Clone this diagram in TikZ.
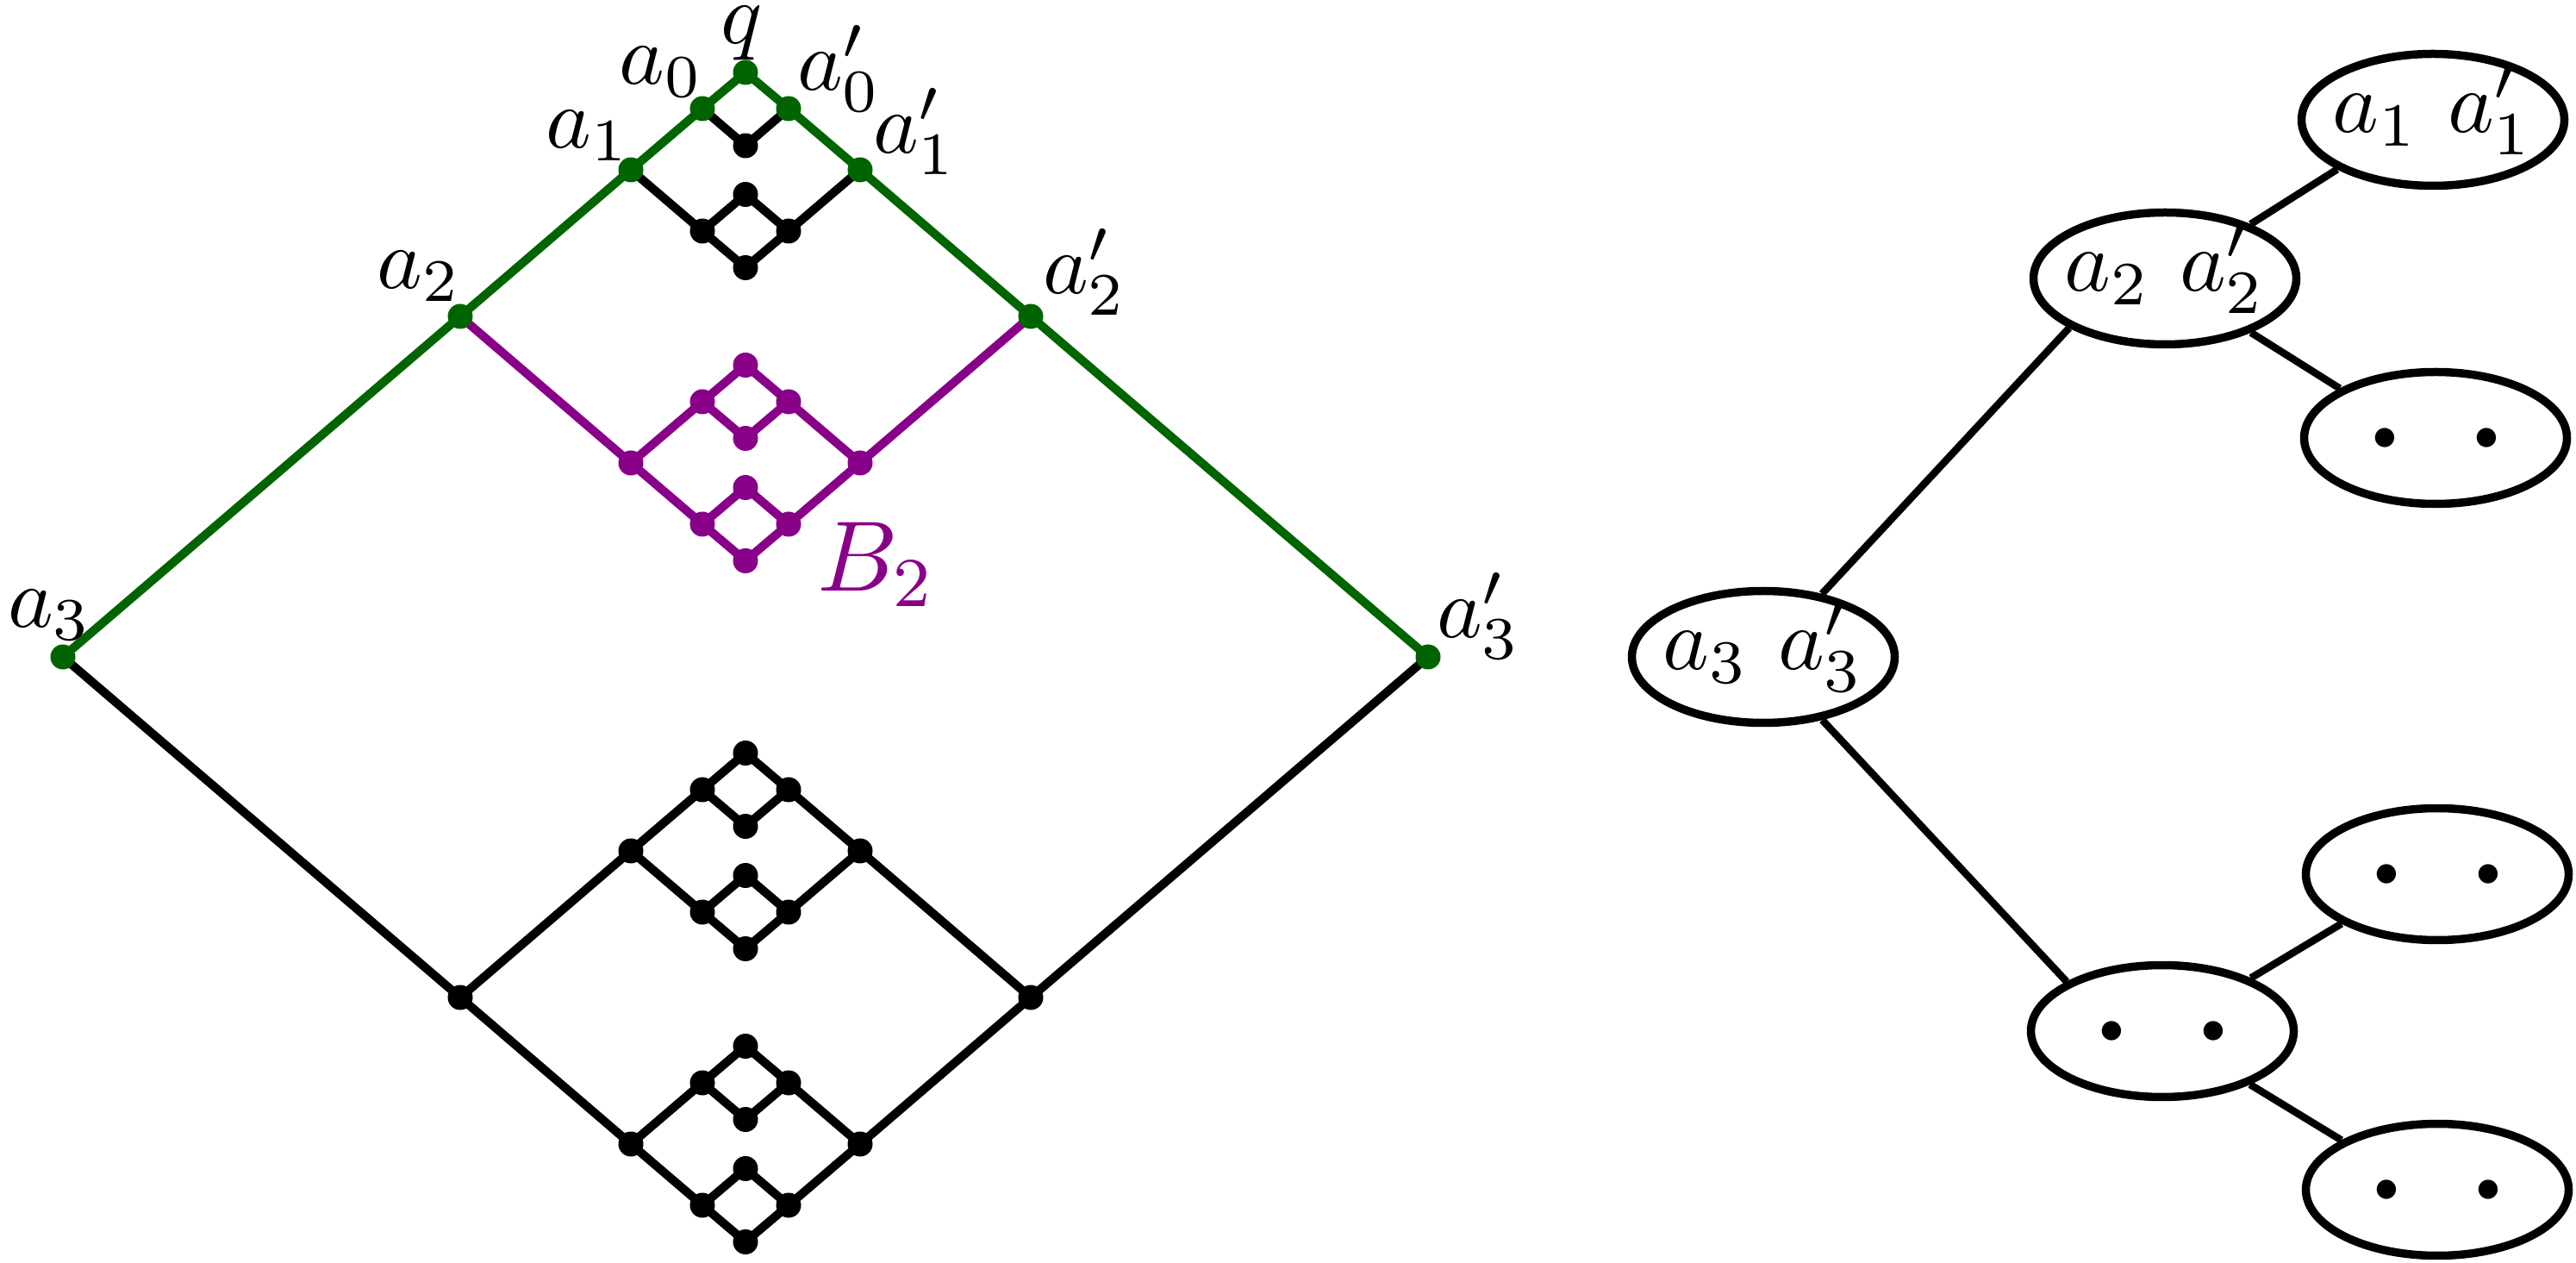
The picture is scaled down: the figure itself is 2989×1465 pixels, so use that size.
\RequirePackage{fix-cm}
\documentclass[tikz,border=0pt]{standalone}
\usetikzlibrary{shapes.geometric,backgrounds}
\definecolor{dgreen}{RGB}{0,100,0}
\definecolor{purp}{RGB}{136,0,136}
\tikzset{
  dot/.style={circle,fill=black,inner sep=0pt,minimum size=2.9pt,outer sep=0pt},
  edge/.style={line width=1.0pt},
  lab/.style={inner sep=0pt,font=\fontsize{10}{12}\selectfont},
  tnode/.style={ellipse,draw,line width=0.95pt,minimum width=30.5pt,minimum height=15.3pt,
    inner sep=0pt,text height=3pt,text depth=0pt,font=\fontsize{10.2}{12}\selectfont},
  tdots/.style={text height=2.3pt},
  tedge/.style={line width=0.85pt},
}
\newcommand\BOne[4]{%
  \node[dot,fill=#4] (#1L) at ({#2-50},{#3}) {};
  \node[dot,fill=#4] (#1R) at ({#2+50},{#3}) {};
  \node[dot,fill=#4] (#1T) at ({#2},{#3-42.5}) {};
  \node[dot,fill=#4] (#1B) at ({#2},{#3+42.5}) {};
  \begin{scope}[on background layer]
    \draw[edge,#4] (#1L.center) -- (#1T.center) -- (#1R.center) -- (#1B.center) -- cycle;
  \end{scope}}
\newcommand\BTwo[4]{%
  \node[dot,fill=#4] (#1L) at ({#2-133},{#3}) {};
  \node[dot,fill=#4] (#1R) at ({#2+133},{#3}) {};
  \BOne{#1u}{#2}{#3-71}{#4}%
  \BOne{#1d}{#2}{#3+71}{#4}%
  \begin{scope}[on background layer]
    \draw[edge,#4] (#1L.center) -- (#1uL.center) (#1uR.center) -- (#1R.center) -- (#1dR.center) (#1dL.center) -- (#1L.center);
  \end{scope}}
\newcommand\BThree[4]{%
  \node[dot,fill=#4] (#1L) at ({#2-331},{#3}) {};
  \node[dot,fill=#4] (#1R) at ({#2+331},{#3}) {};
  \BTwo{#1u}{#2}{#3-170}{#4}%
  \BTwo{#1d}{#2}{#3+170}{#4}%
  \begin{scope}[on background layer]
    \draw[edge,#4] (#1L.center) -- (#1uL.center) (#1uR.center) -- (#1R.center) -- (#1dR.center) (#1dL.center) -- (#1L.center);
  \end{scope}}
\newcommand\twodots{\makebox[0pt]{\fontsize{4.6}{5}\selectfont$\bullet$\hspace{8.4pt}$\bullet$}}
\begin{document}
\begin{tikzpicture}[x=0.1pt,y=-0.1pt]
\useasboundingbox (0,0) rectangle (2989,1465);
% green path
\node[dot,fill=dgreen] (a3) at (73,762) {};
\node[dot,fill=dgreen] (a3p) at (1657,762) {};
\node[dot,fill=dgreen] (a2) at (534,367) {};
\node[dot,fill=dgreen] (a2p) at (1196,367) {};
\node[dot,fill=dgreen] (a1) at (732,197) {};
\node[dot,fill=dgreen] (a1p) at (998,197) {};
\node[dot,fill=dgreen] (a0) at (815,126) {};
\node[dot,fill=dgreen] (a0p) at (915,126) {};
\node[dot,fill=dgreen] (q) at (865,84) {};
\node[dot] (qb) at (865,169) {};
\BOne{m}{865}{268}{black}
\BTwo{p}{865}{537}{purp}
\BThree{z}{865}{1157}{black}
\begin{scope}[on background layer]
  \draw[edge,dgreen] (a3.center) -- (a2.center) -- (a1.center) -- (a0.center) -- (q.center)
     -- (a0p.center) -- (a1p.center) -- (a2p.center) -- (a3p.center);
  \draw[edge] (a0.center) -- (qb.center) -- (a0p.center);
  \draw[edge] (a1.center) -- (mL.center) (mR.center) -- (a1p.center);
  \draw[edge,purp] (a2.center) -- (pL.center) (pR.center) -- (a2p.center);
  \draw[edge] (a3.center) -- (zL.center) (zR.center) -- (a3p.center);
\end{scope}
% labels
\node[lab,anchor=base] (lq) at (861,51) {$q$};
\node[lab,anchor=base east] (la0) at (818,98) {$a_0$};
\node[lab,anchor=base west] (la0p) at (923,105) {$a'_0$};
\node[lab,anchor=base east] (la1) at (733,172) {$a_1$};
\node[lab,anchor=base west] (la1p) at (1011,178) {$a'_1$};
\node[lab,anchor=base east] (la2) at (537,335) {$a_2$};
\node[lab,anchor=base west] (la2p) at (1208,341) {$a'_2$};
\node[lab,anchor=base west] (la3) at (7,728) {$a_3$};
\node[lab,anchor=base west] (la3p) at (1665,740) {$a'_3$};
\node[lab,anchor=base west,text=purp,font=\fontsize{11.6}{14}\selectfont] (lb2) at (946,686) {$B_2$};
% tree
\node[tnode] (t3) at (2046,762) {\makebox[0pt]{$a_3$ $a'_3$}};
\node[tnode] (t2) at (2512,323) {\makebox[0pt]{$a_2$ $a'_2$}};
\node[tnode] (t1) at (2823,139) {\makebox[0pt]{$a_1$ $a'_1$}};
\node[tnode,tdots] (d1) at (2826,508) {\twodots};
\node[tnode,tdots] (d2) at (2509,1196) {\twodots};
\node[tnode,tdots] (d3) at (2828,1014) {\twodots};
\node[tnode,tdots] (d4) at (2828,1380) {\twodots};
\draw[tedge] (t3) -- (t2.south west);
\draw[tedge] (t2) -- (t1.south west);
\draw[tedge] (t2) -- (d1.north west);
\draw[tedge] (t3) -- (d2.north west);
\draw[tedge] (d2) -- (d3.south west);
\draw[tedge] (d2) -- (d4.north west);
\end{tikzpicture}
\end{document}
